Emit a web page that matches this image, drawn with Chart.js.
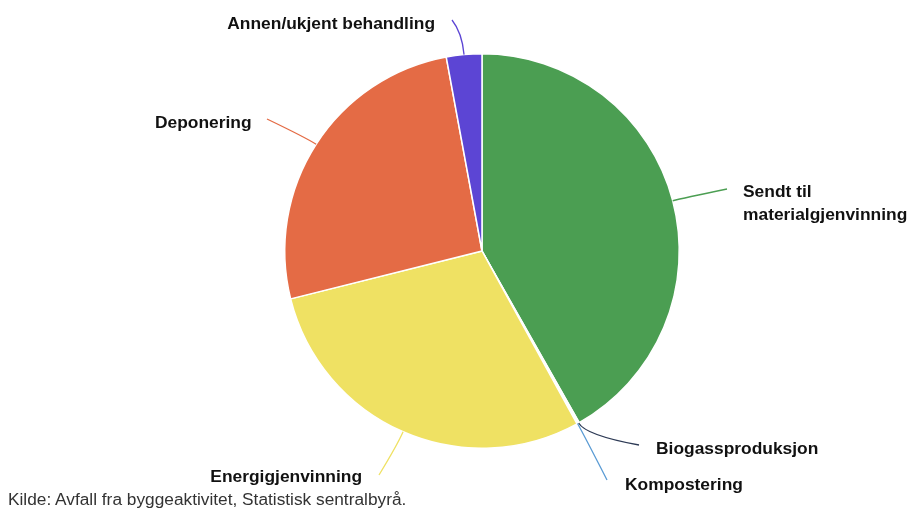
<!DOCTYPE html>
<html>
<head>
<meta charset="utf-8">
<script src="https://cdn.jsdelivr.net/npm/chart.js@4.4.0/dist/chart.umd.min.js"></script>
<style>
  html, body { margin: 0; padding: 0; background: #fff; }
  #wrap { position: relative; width: 907px; height: 510px; }
  #source { position: absolute; left: 8px; top: 489px; font: 17.3px/20px "Liberation Sans", Arial, sans-serif; color: #333; white-space: nowrap; }
</style>
</head>
<body>
<div id="wrap">
  <canvas id="c" width="907" height="510"></canvas>
  <div id="source">Kilde: Avfall fra byggeaktivitet, Statistisk sentralbyrå.</div>
</div>
<script>
const categories = [
  ["Sendt til", "materialgjenvinning"],
  ["Biogassproduksjon"],
  ["Kompostering"],
  ["Energigjenvinning"],
  ["Deponering"],
  ["Annen/ukjent behandling"]
];
const values = [41.8, 0.1, 0.1, 29.1, 26.0, 2.9];
const colors = ["#4b9e52", "#2d3a55", "#5a9bd4", "#efe163", "#e46b45", "#5c45d4"];

// label layout: text anchor, alignment, connector end point and curve strength
const labelLayout = [
  { tx: 743, ty: 192, align: "left",  ex: 727, ey: 189, k: 10 },
  { tx: 656, ty: 449, align: "left",  ex: 639, ey: 445, k: 14 },
  { tx: 625, ty: 485, align: "left",  ex: 607, ey: 480, k: 14 },
  { tx: 362, ty: 477, align: "right", ex: 379, ey: 475, k: 14 },
  { tx: 155, ty: 123, align: "left",  ex: 267, ey: 119, k: 12 },
  { tx: 435, ty: 24,  align: "right", ex: 452, ey: 20,  k: 22 }
];

const labelPlugin = {
  id: "pieLabels",
  afterDatasetsDraw(chart) {
    const ctx = chart.ctx;
    const meta = chart.getDatasetMeta(0);
    ctx.save();
    meta.data.forEach((arc, i) => {
      const p = arc.getProps(["x", "y", "startAngle", "endAngle", "outerRadius"], true);
      const mid = (p.startAngle + p.endAngle) / 2;
      const dx = Math.cos(mid), dy = Math.sin(mid);
      const sx = p.x + dx * p.outerRadius, sy = p.y + dy * p.outerRadius;
      const L = labelLayout[i];
      const cx = sx + dx * L.k, cy = sy + dy * L.k;
      ctx.beginPath();
      ctx.moveTo(sx, sy);
      ctx.quadraticCurveTo(cx, cy, L.ex, L.ey);
      ctx.strokeStyle = colors[i];
      ctx.lineWidth = 1.3;
      ctx.stroke();
      ctx.fillStyle = "#111";
      ctx.font = "bold 17.4px 'Liberation Sans', Arial, sans-serif";
      ctx.textAlign = L.align;
      ctx.textBaseline = "middle";
      categories[i].forEach((line, j) => {
        ctx.fillText(line, L.tx, L.ty + j * 23);
      });
    });
    ctx.restore();
  }
};

new Chart(document.getElementById("c"), {
  type: "pie",
  data: {
    labels: categories.map(c => c.join(" ")),
    datasets: [{
      data: values,
      backgroundColor: colors,
      borderColor: "#ffffff",
      borderWidth: 1.5
    }]
  },
  options: {
    responsive: false,
    animation: false,
    layout: { padding: { left: 284, right: 227, top: 53, bottom: 61 } },
    plugins: { legend: { display: false }, tooltip: { enabled: false } }
  },
  plugins: [labelPlugin]
});
</script>
</body>
</html>
